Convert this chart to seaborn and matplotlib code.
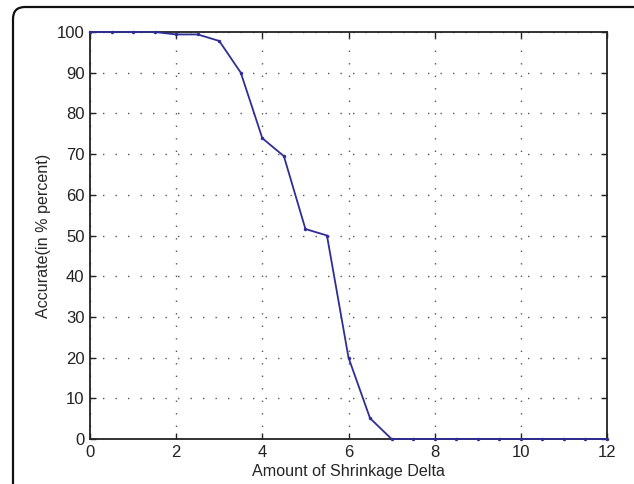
import numpy as np
import pandas as pd
import seaborn as sns
import matplotlib.pyplot as plt
from matplotlib.patches import FancyBboxPatch

# data
delta = [0, 0.5, 1, 1.5, 2, 2.5, 3, 3.5, 4, 4.5, 5, 5.5, 6, 6.5, 7,
         7.5, 8, 8.5, 9, 9.5, 10, 10.5, 11, 11.5, 12]
accurate = [100, 100, 100, 100, 99.4, 99.4, 97.8, 90, 73.9, 69.5, 51.6, 50, 20, 5.1, 0,
            0, 0, 0, 0, 0, 0, 0, 0, 0, 0]
xticks = [0, 2, 4, 6, 8, 10, 12]
yticks = list(range(0, 101, 10))

df = pd.DataFrame({"delta": delta, "accurate": accurate})

sns.set_style("ticks")
plt.rcParams["font.family"] = ["Liberation Sans", "DejaVu Sans"]

fig = plt.figure(figsize=(6.34, 4.84), dpi=100)
ax = fig.add_axes([90 / 634, 45 / 484, 517 / 634, 407 / 484])

sns.lineplot(data=df, x="delta", y="accurate", ax=ax, color="#2e2e96",
             linewidth=1.3, marker="o", markersize=2.5, markeredgewidth=0)
for ln in ax.lines:
    ln.set_clip_on(False)
    ln.set_zorder(5)

ax.set_xlim(0, 12)
ax.set_ylim(0, 100)
ax.set_xticks(xticks)
ax.set_yticks(yticks)
ax.set_xticklabels([str(t) for t in xticks])
ax.set_yticklabels([str(t) for t in yticks])
ax.set_xlabel("Amount of Shrinkage Delta", fontsize=11.6, labelpad=3)
ax.set_ylabel("Accurate(in % percent)", fontsize=11.6, labelpad=4)
ax.tick_params(direction="in", top=True, right=True, length=4, width=1,
               labelsize=12, pad=4, colors="#222222")
ax.grid(True, color="#555555", linestyle=(0, (1, 8)), linewidth=1)
for s in ax.spines.values():
    s.set_linewidth(1.3)
    s.set_color("#222222")

# rounded outer frame (partly cut by the image edges)
frame = FancyBboxPatch((0.13, -0.3), 6.6, 4.77 + 0.3,
                       boxstyle="round,pad=0,rounding_size=0.12",
                       transform=fig.dpi_scale_trans, fill=False,
                       edgecolor="#111111", linewidth=1.6, clip_on=False)
fig.patches.append(frame)

fig.savefig("out.png", dpi=100)
